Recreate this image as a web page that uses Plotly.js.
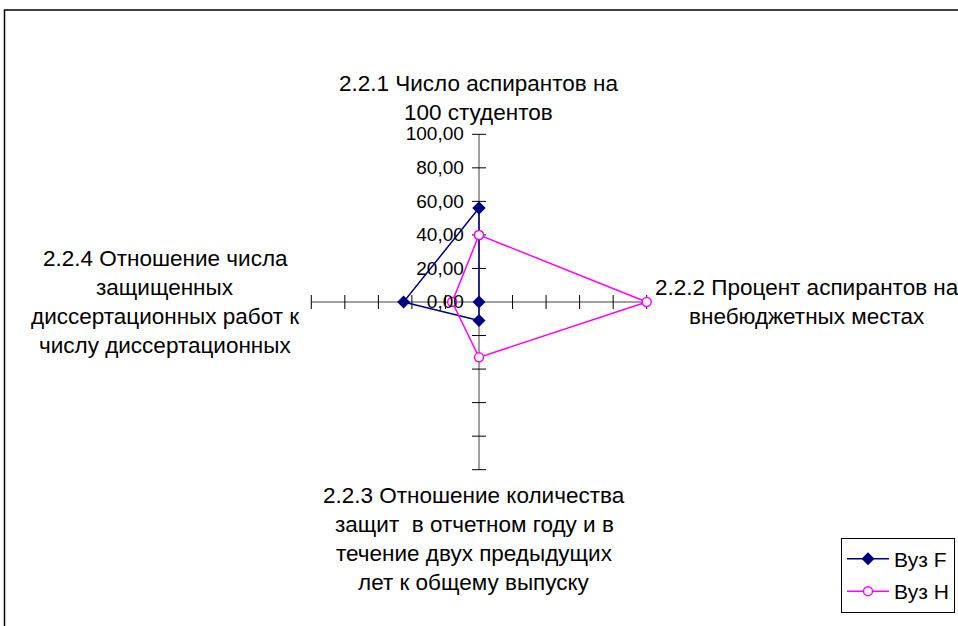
<!DOCTYPE html>
<html>
<head>
<meta charset="utf-8">
<script src="https://cdn.plot.ly/plotly-3.0.1.min.js"></script>
<style>
  html, body { margin: 0; padding: 0; background: #ffffff; }
  #chart { width: 958px; height: 626px; }
</style>
</head>
<body>
<div id="chart"></div>
<script>
// Indicator axes, clockwise from the top
const categories = ["2.2.1", "2.2.2", "2.2.3", "2.2.4"];
const categoryLabels = [
  ["2.2.1 Число аспирантов на", "100 студентов"],
  ["2.2.2 Процент аспирантов на", "внебюджетных местах"],
  ["2.2.3 Отношение количества", "защит \u00a0в отчетном году и в", "течение двух предыдущих", "лет к общему выпуску"],
  ["2.2.4 Отношение числа", "защищенных", "диссертационных работ к", "числу диссертационных"]
];
const seriesNames = ["Вуз F", "Вуз Н"];
const valuesF = [56, 0, 11, 45];
const valuesH = [40, 100, 33, 16];
const radialTicks = [0, 20, 40, 60, 80, 100];

const FONT = "Liberation Sans, Arial, sans-serif";

function closed(arr) { return arr.concat([arr[0]]); }

// Small cross-ticks on every spoke (horizontal dashes on vertical spokes and vice versa)
const tickR = radialTicks.slice(1);
const vertSpokes = [categories[0], categories[2]];
const horzSpokes = [categories[1], categories[3]];
function tickTrace(spokes, symbol) {
  const th = [], r = [];
  spokes.forEach(s => tickR.forEach(v => { th.push(s); r.push(v); }));
  return {
    type: "scatterpolar", mode: "markers", theta: th, r: r,
    marker: { symbol: symbol, size: 10, color: "#000000", line: { color: "#000000", width: 1 } },
    showlegend: false, hoverinfo: "skip", cliponaxis: false
  };
}

const traces = [
  tickTrace(vertSpokes, "line-ew"),
  tickTrace(horzSpokes, "line-ns"),
  {
    type: "scatterpolar", mode: "lines+markers", name: seriesNames[0], legendgroup: "f",
    theta: closed(categories), r: closed(valuesF),
    line: { color: "#000080", width: 1.5 },
    marker: { symbol: "diamond", size: 10, color: "#000080" },
    cliponaxis: false
  },
  {
    type: "scatterpolar", mode: "lines+markers", name: seriesNames[1], legendgroup: "h",
    theta: closed(categories), r: closed(valuesH),
    line: { color: "#FF00FF", width: 1.5 },
    marker: { symbol: "circle", size: 9, color: "#ffffff", line: { color: "#FF00FF", width: 1.5 } },
    cliponaxis: false
  }
];

// Category captions, one annotation per line
const W = 958, H = 626;
const captionPos = [
  { x: 478, y: 83 },
  { x: 807, y: 287 },
  { x: 474, y: 495 },
  { x: 165, y: 258 }
];
const LINE_STEP = 29;
const annotations = [];
categoryLabels.forEach((lines, i) => {
  lines.forEach((txt, j) => {
    annotations.push({
      xref: "paper", yref: "paper",
      x: captionPos[i].x / W, y: 1 - (captionPos[i].y + j * LINE_STEP) / H,
      xanchor: "center", yanchor: "middle",
      text: txt, showarrow: false,
      font: { family: FONT, size: 22.5, color: "#000000" }
    });
  });
});

const cx = 479, cy = 302, R = 167.7;
const layout = {
  width: W, height: H,
  margin: { l: 0, r: 0, t: 0, b: 0 },
  paper_bgcolor: "#ffffff",
  separators: ", ",
  font: { family: FONT, size: 18, color: "#000000" },
  polar: {
    domain: { x: [(cx - R) / W, (cx + R) / W], y: [1 - (cy + R) / H, 1 - (cy - R) / H] },
    bgcolor: "rgba(0,0,0,0)",
    angularaxis: {
      type: "category", categoryarray: categories,
      rotation: 90, direction: "clockwise",
      showline: false, showticklabels: false, ticks: "",
      showgrid: true, gridcolor: "#808080", gridwidth: 1.5
    },
    radialaxis: {
      range: [0, 100], tickvals: radialTicks, tickformat: ".2f",
      angle: 90, side: "counterclockwise", tickangle: 90,
      showline: false, showgrid: false,
      ticks: "outside", ticklen: 8, tickcolor: "rgba(0,0,0,0)",
      tickfont: { family: FONT, size: 19, color: "#000000" }
    }
  },
  showlegend: true,
  legend: {
    x: 841 / W, y: 1 - 537.7 / H, xanchor: "left", yanchor: "top",
    bordercolor: "#000000", borderwidth: 1, bgcolor: "#ffffff",
    font: { family: FONT, size: 21, color: "#000000" },
    tracegroupgap: 2, itemwidth: 42
  },
  annotations: annotations,
  shapes: [{
    type: "rect", xref: "paper", yref: "paper",
    x0: 4.5 / W, x1: 1.05, y0: -0.05, y1: 1 - 10 / H,
    line: { color: "#000000", width: 1.5 }
  }]
};

Plotly.newPlot("chart", traces, layout, { staticPlot: true });
</script>
</body>
</html>
